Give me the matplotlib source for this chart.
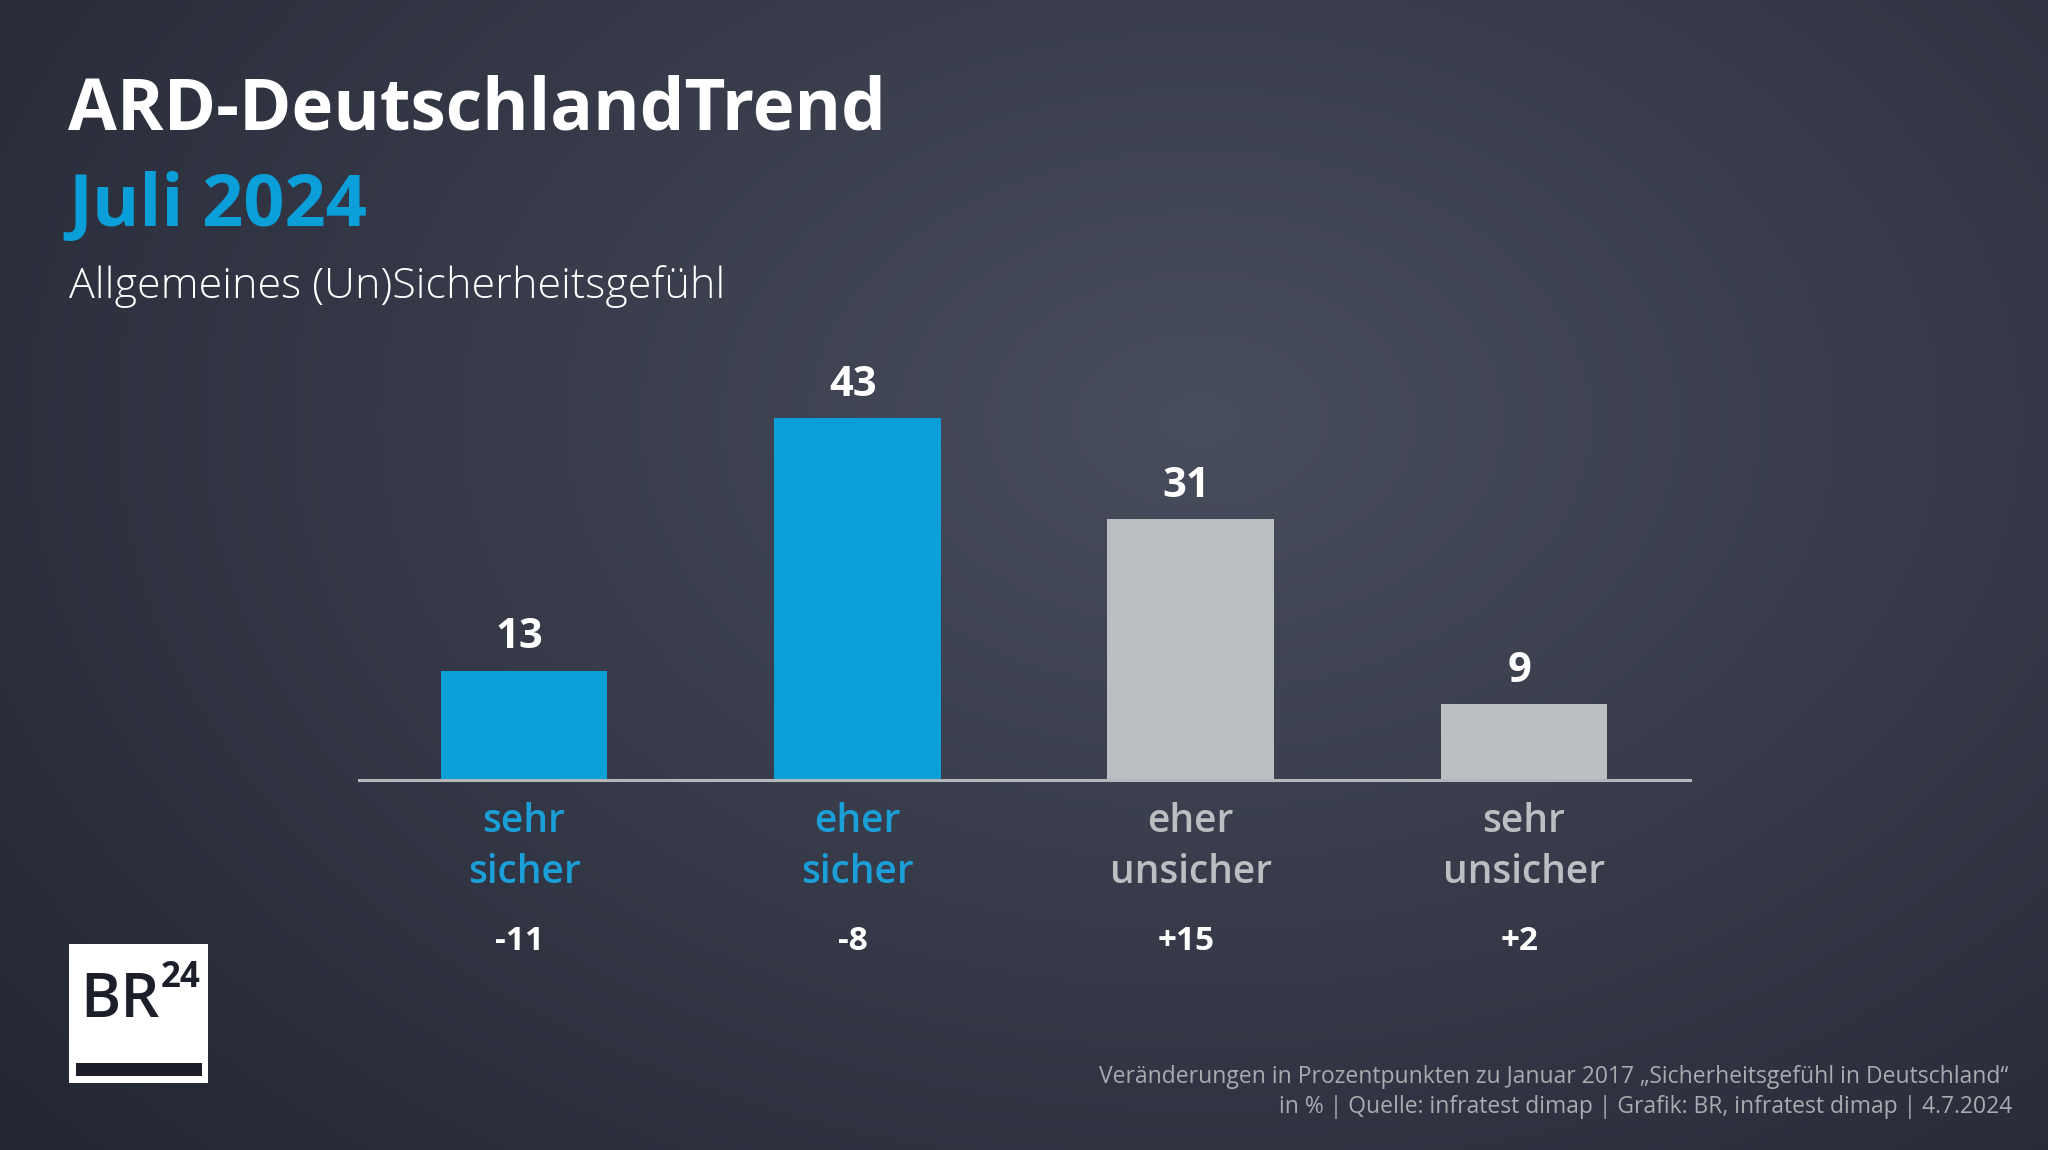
import matplotlib
matplotlib.use("Agg")
import matplotlib.pyplot as plt
import numpy as np
from matplotlib.patches import Rectangle

# Daten
kategorien = ["sehr\nsicher", "eher\nsicher", "eher\nunsicher", "sehr\nunsicher"]
werte = [13, 43, 31, 9]
veraenderung = ["-11", "-8", "+15", "+2"]

titel = "ARD-DeutschlandTrend"
monat = "Juli 2024"
untertitel = "Allgemeines (Un)Sicherheitsgefühl"
fussnote = ["Veränderungen in Prozentpunkten zu Januar 2017 \u201eSicherheitsgefühl in Deutschland\u201c",
            "in % | Quelle: infratest dimap | Grafik: BR, infratest dimap | 4.7.2024"]

# Farben
blau = "#0a9fd9"
grau = "#bcbfc2"
farben = [blau, blau, grau, grau]
text_farben = ["#1a9fd8", "#1a9fd8", "#bcbfc2", "#bcbfc2"]

W, H = 2048, 1150
plt.rcParams["font.family"] = ["Open Sans", "DejaVu Sans"]

fig = plt.figure(figsize=(W / 100, H / 100), dpi=100)

# Hintergrund mit Verlauf
yy, xx = np.mgrid[0:H, 0:W]
d = np.sqrt(((xx - 1200) / 1300.0) ** 2 + ((yy - 420) / 900.0) ** 2)
d = np.clip(d, 0, 1.3)
innen = np.array([72, 77, 93]) / 255.0
aussen = np.array([42, 45, 58]) / 255.0
img = innen[None, None, :] + (aussen - innen)[None, None, :] * d[:, :, None]
img = np.clip(img, 0, 1)
fig.figimage(img, 0, 0, origin="upper", zorder=-10)

# Diagramm
ax = fig.add_axes([359 / W, (H - 780) / H, (1690 - 359) / W, 421 / H])
ax.set_zorder(2)
ax.patch.set_alpha(0)
x = np.arange(len(werte))
ax.bar(x, werte, width=0.5, color=farben, zorder=2)
ax.set_xlim(-0.495, 3.498)
ax.set_ylim(0, 50)
for s in ["top", "left", "right"]:
    ax.spines[s].set_visible(False)
ax.spines["bottom"].set_color("#b4b6ba")
ax.spines["bottom"].set_linewidth(2.2)
ax.set_yticks([])
ax.set_xticks([])

for i, v in enumerate(werte):
    ax.annotate(str(v), (i, v), xytext=(-3, 16), textcoords="offset points",
                ha="center", va="baseline", color="white", fontsize=30,
                fontweight="bold")
    zeilen = kategorien[i].split("\n")
    for k, z in enumerate(zeilen):
        ax.annotate(z, (i, 0), xytext=(0, -37.5 - k * 36.7), textcoords="offset points",
                    ha="center", va="baseline", color=text_farben[i], fontsize=28,
                    fontweight="semibold", annotation_clip=False)
    ax.annotate(veraenderung[i], (i, 0), xytext=(-3, -122.4), textcoords="offset points",
                ha="center", va="baseline", color="white", fontsize=24,
                fontweight="bold", annotation_clip=False)

# Titel
fig.text(68 / W, 1 - 130 / H, titel, color="white", fontsize=51, fontweight="bold",
         ha="left", va="baseline")
fig.text(68 / W, 1 - 226 / H, monat, color=blau, fontsize=52, fontweight="bold",
         ha="left", va="baseline")
fig.text(69 / W, 1 - 298 / H, untertitel, color="white", fontsize=31, fontweight="light",
         ha="left", va="baseline")

# Fussnote
fig.text(2008 / W, 1 - 1083 / H, fussnote[0], color="#a9abb0", fontsize=16.5,
         ha="right", va="baseline")
fig.text(2012 / W, 1 - 1113 / H, fussnote[1], color="#a9abb0", fontsize=16.5,
         ha="right", va="baseline")

# Logo BR24
fig.patches.append(Rectangle((69 / W, 1 - 1083 / H), 139 / W, 139 / H,
                             transform=fig.transFigure, facecolor="white",
                             edgecolor="none", zorder=3))
fig.patches.append(Rectangle((76 / W, 1 - 1076 / H), 126 / W, 13 / H,
                             transform=fig.transFigure, facecolor="#1c1f2a",
                             edgecolor="none", zorder=4))
fig.text(80 / W, 1 - 1017 / H, "BR", color="#1c1f2a", fontsize=44, fontweight="semibold",
         ha="left", va="baseline", zorder=5)
fig.text(161 / W, 1 - 987 / H, "24", color="#1c1f2a", fontsize=25, fontweight="bold",
         ha="left", va="baseline", zorder=5)

fig.savefig("out.png", dpi=100)
